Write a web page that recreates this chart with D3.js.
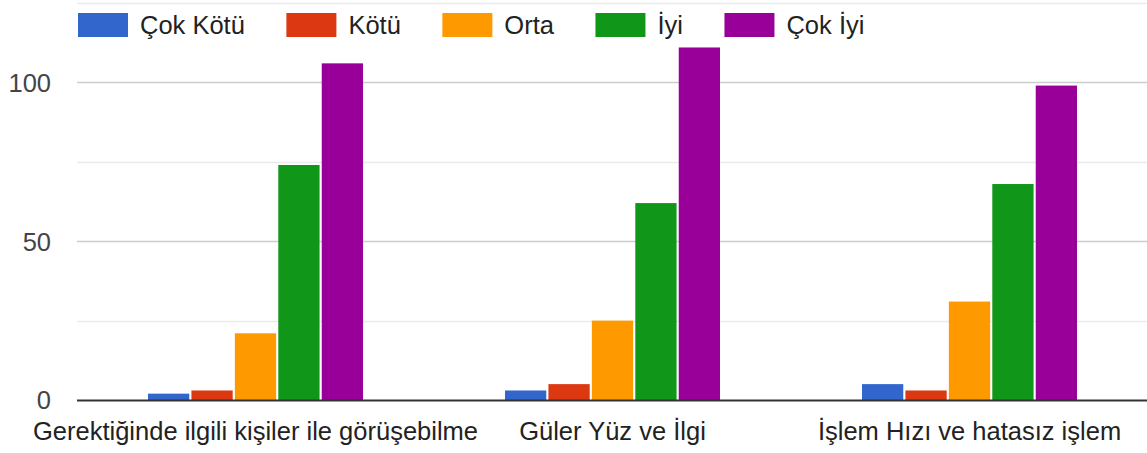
<!DOCTYPE html>
<html>
<head>
<meta charset="utf-8">
<script src="https://d3js.org/d3.v7.min.js"></script>
<style>
  body { margin: 0; background: #fff; }
  text { font-family: "Liberation Sans", Arial, sans-serif; }
</style>
</head>
<body>
<div id="chart"></div>
<script>
// Data
const categories = ["Gerektiğinde ilgili kişiler ile görüşebilme", "Güler Yüz ve İlgi", "İşlem Hızı ve hatasız işlem"];
const seriesNames = ["Çok Kötü", "Kötü", "Orta", "İyi", "Çok İyi"];
const seriesColors = ["#3366cc", "#dc3912", "#ff9900", "#109618", "#990099"];
const cokKotu = [2, 3, 5];
const kotu = [3, 5, 3];
const orta = [21, 25, 31];
const iyi = [74, 62, 68];
const cokIyi = [106, 111, 99];
const majorTicks = [0, 50, 100];
const minorTicks = [25, 75, 125];

const values = [cokKotu, kotu, orta, iyi, cokIyi];

const width = 1147, height = 453;
const plot = { left: 77, right: 1148, top: 3, bottom: 400 };
const fontSize = 25.5;

const svg = d3.select("#chart").append("svg")
    .attr("width", width)
    .attr("height", height);

// Scales
const x0 = d3.scaleBand().domain(categories).range([plot.left, plot.right]).padding(0);
const groupW = 215;
const x1 = d3.scaleBand().domain(seriesNames)
    .range([(x0.bandwidth() - groupW) / 2, (x0.bandwidth() + groupW) / 2])
    .paddingInner(0.05);
const y = d3.scaleLinear().domain([0, 125]).range([plot.bottom, plot.top]);

// Gridlines (minor lighter, major darker)
svg.append("g").selectAll("line").data(minorTicks).enter().append("line")
    .attr("x1", plot.left).attr("x2", width)
    .attr("y1", d => Math.round(y(d)) + 0.5).attr("y2", d => Math.round(y(d)) + 0.5)
    .attr("stroke", "#ebebeb").attr("stroke-width", 1.5);
svg.append("g").selectAll("line").data(majorTicks.filter(d => d !== 0)).enter().append("line")
    .attr("x1", plot.left).attr("x2", width)
    .attr("y1", d => Math.round(y(d)) + 0.5).attr("y2", d => Math.round(y(d)) + 0.5)
    .attr("stroke", "#cccccc").attr("stroke-width", 1.5);

// Y axis labels
const yAxis = d3.axisLeft(y).tickValues(majorTicks).tickSize(0).tickPadding(0);
svg.append("g")
    .attr("transform", `translate(51,0)`)
    .call(yAxis)
    .call(g => g.select(".domain").remove())
    .call(g => g.selectAll("text")
        .attr("font-size", fontSize)
        .attr("font-family", "'Liberation Sans', Arial, sans-serif")
        .attr("fill", "#444")
        .attr("dy", "0.35em"));

// Bars
const groups = svg.append("g").selectAll("g")
    .data(categories).enter().append("g")
    .attr("transform", d => `translate(${x0(d)},0)`);

groups.selectAll("rect")
    .data((c, ci) => seriesNames.map((s, si) => ({ series: s, value: values[si][ci], color: seriesColors[si] })))
    .enter().append("rect")
    .attr("x", d => x1(d.series))
    .attr("width", x1.bandwidth())
    .attr("y", d => y(d.value))
    .attr("height", d => y(0) - y(d.value))
    .attr("fill", d => d.color);

// Baseline
svg.append("line")
    .attr("x1", plot.left).attr("x2", width)
    .attr("y1", y(0) + 0.5).attr("y2", y(0) + 0.5)
    .attr("stroke", "#333").attr("stroke-width", 2);

// X axis labels
const xAxis = d3.axisBottom(x0).tickSize(0).tickPadding(0);
svg.append("g")
    .attr("transform", `translate(0,${plot.bottom})`)
    .call(xAxis)
    .call(g => g.select(".domain").remove())
    .call(g => g.selectAll("text")
        .attr("font-size", fontSize)
        .attr("font-family", "'Liberation Sans', Arial, sans-serif")
        .attr("fill", "#222")
        .attr("y", 40)
        .attr("dy", 0));

// Legend
const legend = svg.append("g");
let lx = 78;
seriesNames.forEach((name, i) => {
    legend.append("rect")
        .attr("x", lx).attr("y", 13)
        .attr("width", 50).attr("height", 24)
        .attr("fill", seriesColors[i]);
    const t = legend.append("text")
        .attr("x", lx + 62).attr("y", 34)
        .attr("font-size", fontSize)
        .attr("fill", "#222")
        .text(name);
    lx += 62 + t.node().getComputedTextLength() + 41.5;
});
</script>
</body>
</html>
